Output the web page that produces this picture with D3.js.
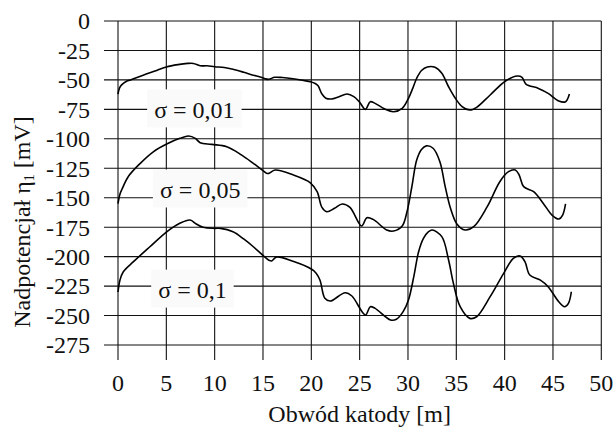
<!DOCTYPE html>
<html><head><meta charset="utf-8">
<script src="https://cdn.jsdelivr.net/npm/d3@7"></script>
</head><body style="margin:0;background:#fff">
<svg id="c" width="615" height="427" style="display:block;font-family:'Liberation Serif', monospace"></svg>
<script>
const xTicks = [0,5,10,15,20,25,30,35,40,45,50];
const yTicks = [0,-25,-50,-75,-100,-125,-150,-175,-200,-225,-250,-275];
const xTitle = "Obwód katody [m]";
const seriesNames = ["σ = 0,01","σ = 0,05","σ = 0,1"];
const labelPos = [[7.9,-75],[8.5,-143],[7.7,-228]];

const s001 = [[0,-62],[0.15,-57],[0.4,-54],[0.8,-51.5],[1.3,-50],[2.6,-46],[4,-42],[5,-39],[6.2,-37],[7.2,-36],[7.8,-36],[8.5,-38],[9.2,-38],[10,-38.8],[11,-39.5],[11.9,-41],[13,-43.5],[14,-46],[14.7,-47.5],[15.2,-49],[15.6,-49.5],[16.2,-47.8],[17,-48],[18.1,-49],[19.2,-50.5],[19.9,-51.5],[20.4,-53],[20.7,-55],[21.1,-62],[21.5,-65.5],[22.1,-66.2],[22.8,-64.5],[23.7,-62],[24.4,-64.2],[25,-69],[25.6,-75],[26.1,-68.5],[26.6,-69.9],[27.6,-74.7],[28.5,-77],[29.4,-74.1],[30.05,-65.6],[30.5,-57],[30.9,-48.6],[31.4,-42],[32,-39],[32.8,-39.3],[33.5,-44.4],[34.2,-55.8],[34.9,-65.6],[35.6,-72.7],[36.4,-75.6],[37.1,-73.3],[38.5,-62.8],[40.1,-50.9],[41.3,-46.7],[41.8,-47.8],[42.2,-53.5],[43.5,-57.2],[44.5,-61.4],[45.6,-67.9],[46.3,-68.5],[46.7,-62]];

const s005 = [[0,-155],[0.2,-147],[0.4,-143],[1.07,-132],[2.28,-121],[3.65,-111],[5.04,-104.4],[6.4,-99.6],[7.3,-97.6],[8.0,-99.6],[8.5,-103.3],[9.7,-104.7],[11.25,-106.7],[12.8,-113.8],[14.0,-120.8],[15.0,-127],[15.5,-129.5],[16.25,-126.5],[18.15,-130.7],[19.9,-137.3],[20.6,-144.9],[21.1,-158.2],[21.6,-161.9],[22.4,-159],[23.2,-155.3],[24.0,-158.2],[25.2,-174],[25.75,-167],[26.4,-168.4],[27.8,-177.4],[28.5,-178.3],[29.4,-174],[29.9,-161.9],[30.4,-140.7],[30.9,-118],[31.4,-109],[31.9,-106],[32.6,-108],[33.3,-119.4],[33.85,-140.6],[34.4,-159],[35.06,-172.3],[35.9,-177.4],[36.8,-174.6],[38.2,-157.6],[39.5,-136.4],[40.4,-127.9],[41.1,-126.5],[41.5,-130.7],[41.97,-140.6],[43.0,-144.9],[44.0,-154.8],[44.9,-164.7],[45.6,-168.1],[46.0,-164.7],[46.3,-155.3]];

const s01 = [[0,-230],[0.2,-220],[0.55,-212.8],[1.6,-204.3],[3.3,-191.6],[5.04,-178.9],[6.4,-171.7],[7.45,-168.9],[8.1,-172.3],[8.8,-175.1],[10.0,-176],[10.6,-176],[11.9,-178.9],[13,-185],[14.0,-191.6],[15.0,-199],[15.6,-203],[15.9,-203.7],[16.4,-200.3],[18.1,-203.9],[20.0,-210.5],[20.5,-214],[20.9,-220],[21.4,-235.4],[21.95,-237.7],[23.5,-230.6],[24.2,-233.4],[25.6,-249.6],[26.1,-242.5],[26.6,-243.9],[28.2,-253.8],[28.8,-253.2],[29.5,-246.7],[30.05,-236.8],[30.6,-217],[31.1,-195.8],[31.6,-184.5],[32.1,-179],[32.5,-177.4],[33.5,-183],[34.2,-202.9],[34.7,-222.7],[35.4,-242.5],[36.4,-252.4],[37.1,-251],[38.5,-234],[39.9,-214.2],[40.9,-201.5],[41.6,-199.5],[42.1,-204.3],[42.6,-215.6],[43.7,-219.9],[44.5,-225.5],[45.6,-238.3],[46.2,-242.5],[46.6,-239.6],[46.9,-229.8]];

const series = [s001, s005, s01];

const svg = d3.select("#c");
const FONT = '"Liberation Serif", monospace';
const fs = 24;
const x = d3.scaleLinear().domain([0,50]).range([118,601.3]);
const y = d3.scaleLinear().domain([0,-275]).range([21,345]);

function styleText(sel, size) {
  return sel.style("font-family", FONT).style("font-size", size + "px").attr("fill", "#111");
}

// horizontal grid
svg.append("g").selectAll("line").data(yTicks).join("line")
  .attr("x1",104).attr("x2",x(50)).attr("y1",d=>y(d)).attr("y2",d=>y(d))
  .attr("stroke","#111").attr("stroke-width",1.1);
// vertical grid
svg.append("g").selectAll("line").data(xTicks).join("line")
  .attr("x1",d=>x(d)).attr("x2",d=>x(d)).attr("y1",y(0)).attr("y2",360)
  .attr("stroke","#111").attr("stroke-width",1.1);

// y tick labels
styleText(svg.append("g").selectAll("text").data(yTicks).join("text")
  .attr("x",90).attr("y",d=>y(d)).attr("dy","0.35em")
  .attr("text-anchor","end").text(d=>d), fs);
// x tick labels
styleText(svg.append("g").selectAll("text").data(xTicks).join("text")
  .attr("x",d=>x(d)).attr("y",391)
  .attr("text-anchor","middle").text(d=>d), fs);

// curves
const line = d3.line().x(d=>x(d[0])).y(d=>y(d[1])).curve(d3.curveCatmullRom.alpha(0.5));
svg.append("g").selectAll("path").data(series).join("path")
  .attr("d",line).attr("fill","none").attr("stroke","#000").attr("stroke-width",1.6);

// labels with boxes
const lg = svg.append("g").selectAll("g").data(seriesNames).join("g")
  .attr("transform",(d,i)=>`translate(${x(labelPos[i][0])},${y(labelPos[i][1])})`);
const rects = lg.append("rect").attr("fill","#fafafa");
const lt = styleText(lg.append("text").attr("text-anchor","middle").attr("dy","0.35em").text(d=>d), fs);
lt.each(function(d,i){
  const b = this.getBBox();
  d3.select(rects.nodes()[i]).attr("x", b.x-7).attr("y",-20).attr("width", b.width+14).attr("height",38);
});

// axis titles
styleText(svg.append("text").attr("x",(118+601.3)/2).attr("y",422).attr("text-anchor","middle").text(xTitle), fs);
const yt = styleText(svg.append("text").attr("transform","translate(30,222) rotate(-90)")
  .attr("text-anchor","middle"), fs);
yt.append("tspan").text("Nadpotencjał η");
yt.append("tspan").style("font-size","14px").attr("dy",4).text("1");
yt.append("tspan").attr("dy",-4).text(" [mV]");
</script>
</body></html>
